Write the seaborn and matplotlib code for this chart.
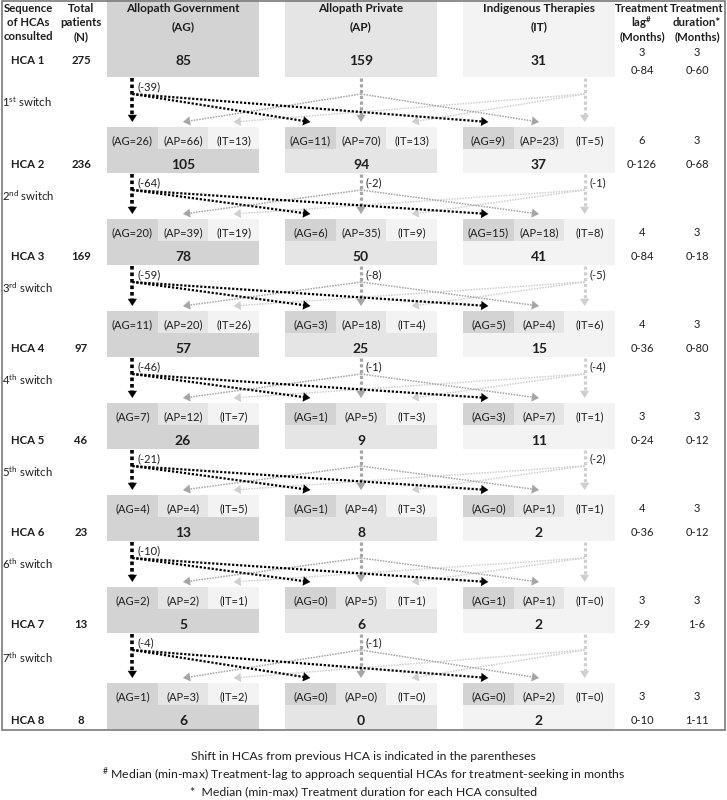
"""
Flow of patients across sequential healthcare approaches (HCA 1 - HCA 8).
Writes out.png (727x800).
"""
import matplotlib
matplotlib.use("Agg")
import matplotlib.pyplot as plt
import seaborn as sns

# ── data ────────────────────────────────────────────────────────────
HCA_LABELS = ["HCA 1", "HCA 2", "HCA 3", "HCA 4", "HCA 5", "HCA 6", "HCA 7", "HCA 8"]
TOTAL_N = [275, 236, 169, 97, 46, 23, 13, 8]

GROUP_CODES = ["AG", "AP", "IT"]
GROUP_TITLES = ["Allopath Government", "Allopath Private", "Indigenous Therapies"]

AG_N = [85, 105, 78, 57, 26, 13, 5, 6]
AP_N = [159, 94, 50, 25, 9, 8, 6, 0]
IT_N = [31, 37, 41, 15, 11, 2, 2, 2]

# patients arriving in each group at HCA 2..8, split by previous HCA (AG, AP, IT)
AG_FROM = [(26, 66, 13), (20, 39, 19), (11, 20, 26), (7, 12, 7), (4, 4, 5), (2, 2, 1), (1, 3, 2)]
AP_FROM = [(11, 70, 13), (6, 35, 9), (3, 18, 4), (1, 5, 3), (1, 4, 3), (0, 5, 1), (0, 0, 0)]
IT_FROM = [(9, 23, 5), (15, 18, 8), (5, 4, 6), (3, 7, 1), (0, 1, 1), (1, 1, 0), (0, 2, 0)]

# drop-out at each switch (None = no label)
AG_SHIFT = [-39, -64, -59, -46, -21, -10, -4]
AP_SHIFT = [None, -2, -8, -1, None, None, -1]
IT_SHIFT = [None, -1, -5, -4, -2, None, None]

LAG_MEDIAN = ["3", "6", "4", "4", "3", "4", "3", "3"]
LAG_RANGE = ["0-84", "0-126", "0-84", "0-36", "0-24", "0-36", "2-9", "0-10"]
DUR_MEDIAN = ["3", "3", "3", "3", "3", "3", "3", "3"]
DUR_RANGE = ["0-60", "0-68", "0-18", "0-80", "0-12", "0-12", "1-6", "1-11"]

SWITCH_LABELS = ["1$^{st}$ switch", "2$^{nd}$ switch", "3$^{rd}$ switch", "4$^{th}$ switch",
                 "5$^{th}$ switch", "6$^{th}$ switch", "7$^{th}$ switch"]

FOOTNOTES = [
    "Shift in HCAs from previous HCA is indicated in the parentheses",
    "$^{\\#}$ Median (min-max) Treatment-lag to approach sequential HCAs for treatment-seeking in months",
    "*  Median (min-max) Treatment duration for each HCA consulted",
]

# ── layout (pixels) ─────────────────────────────────────────────────
FIG_W, FIG_H = 727, 800
GX = [107, 285, 463]
GW = 152
ROW_Y = [61, 165, 257, 349, 441, 533, 625, 721]
HEADER_BOTTOM = 77
COL1_X, COL2_X = 28, 81
LAG_X, DUR_X = 642, 697
ANCHOR = [1 / 6, 1 / 2, 0.8]

FILL = ["#d3d3d3", "#e5e5e5", "#f3f3f3"]
LINE = ["#000000", "#a5a5a5", "#cfcfcf"]
TXT = "#1e1e1e"

sns.set_theme(style="white")
plt.rcParams["font.family"] = ["Lato", "DejaVu Sans"]
plt.rcParams["mathtext.default"] = "regular"

fig = plt.figure(figsize=(FIG_W / 100, FIG_H / 100), dpi=100)
ax = fig.add_axes([0, 0, 1, 1])
ax.set_xlim(0, FIG_W)
ax.set_ylim(FIG_H, 0)
ax.axis("off")

counts = [AG_N, AP_N, IT_N]
arrivals = [AG_FROM, AP_FROM, IT_FROM]
shifts = [AG_SHIFT, AP_SHIFT, IT_SHIFT]


def box_bottom(k):
    return HEADER_BOTTOM if k == 0 else ROW_Y[k] + 8


def sub_top(k):
    return ROW_Y[k] - 38


def sub_split(k):
    return ROW_Y[k] - 16


# ── cells as bars ───────────────────────────────────────────────────
lefts, tops, heights, widths, colors = [], [], [], [], []
for g in range(3):
    lefts.append(GX[g]); tops.append(0); heights.append(HEADER_BOTTOM)
    widths.append(GW); colors.append(FILL[g])
for k in range(1, len(ROW_Y)):
    for g in range(3):
        lefts.append(GX[g]); tops.append(sub_split(k))
        heights.append(box_bottom(k) - sub_split(k)); widths.append(GW); colors.append(FILL[g])
        for s in range(3):
            lefts.append(GX[g] + GW * s / 3); tops.append(sub_top(k))
            heights.append(sub_split(k) - sub_top(k)); widths.append(GW / 3); colors.append(FILL[s])
ax.bar(lefts, heights, width=widths, bottom=tops, align="edge", color=colors, linewidth=0)

# ── text ────────────────────────────────────────────────────────────
HEAD_Y = [9, 23, 37]
bold = dict(ha="center", va="center", color=TXT, fontsize=8.5, fontweight="bold")
side = dict(bold, fontsize=8.2)
value = dict(bold, fontsize=10)
reg = dict(ha="center", va="center", color=TXT, fontsize=8)

for y, t in zip(HEAD_Y, ["Sequence", "of HCAs", "consulted"]):
    ax.text(COL1_X, y, t, **side)
for y, t in zip(HEAD_Y, ["Total", "patients", "(N)"]):
    ax.text(COL2_X, y, t, **side)
for y, t in zip(HEAD_Y, ["Treatment", "lag$^{\\#}$", "(Months)"]):
    ax.text(LAG_X, y, t, **side)
for y, t in zip(HEAD_Y, ["Treatment", "duration*", "(Months)"]):
    ax.text(DUR_X, y, t, **side)
for g in range(3):
    cx = GX[g] + GW / 2
    ax.text(cx, 9, GROUP_TITLES[g], **bold)
    ax.text(cx, 27, f"({GROUP_CODES[g]})", **bold)

for k, y in enumerate(ROW_Y):
    ax.text(COL1_X, y, HCA_LABELS[k], **side)
    ax.text(COL2_X, y, str(TOTAL_N[k]), **side)
    for g in range(3):
        ax.text(GX[g] + GW / 2, y, str(counts[g][k]), **value)
        if k > 0:
            for s in range(3):
                ax.text(GX[g] + GW * (s + 0.5) / 3, y - 24,
                        f"({GROUP_CODES[s]}={arrivals[g][k - 1][s]})", **reg)
    if k == 0:
        ax.text(LAG_X, 52, LAG_MEDIAN[k], **reg)
        ax.text(LAG_X, 70, LAG_RANGE[k], **reg)
        ax.text(DUR_X, 52, DUR_MEDIAN[k], **reg)
        ax.text(DUR_X, 70, DUR_RANGE[k], **reg)
    else:
        ax.text(LAG_X, y - 24, LAG_MEDIAN[k], **reg)
        ax.text(LAG_X, y, LAG_RANGE[k], **reg)
        ax.text(DUR_X, y - 24, DUR_MEDIAN[k], **reg)
        ax.text(DUR_X, y, DUR_RANGE[k], **reg)


# ── arrows ──────────────────────────────────────────────────────────
def dotted_arrow(x0, y0, x1, y1, color, lw, z):
    dx, dy = x1 - x0, y1 - y0
    n = (dx * dx + dy * dy) ** 0.5
    ux, uy = dx / n, dy / n
    ax.plot([x0, x1 - 4 * ux], [y0, y1 - 4 * uy], color=color, lw=lw,
            linestyle=(0, (1, 0.8)), dash_capstyle="butt", zorder=z)
    ax.annotate("", xy=(x1, y1), xytext=(x1 - 3 * ux, y1 - 3 * uy),
                arrowprops=dict(arrowstyle="-|>,head_length=0.5,head_width=0.32",
                                color=color, lw=0.1, shrinkA=0, shrinkB=0,
                                mutation_scale=10),
                zorder=z)


for k in range(len(ROW_Y) - 1):
    yb = box_bottom(k)
    yt = sub_top(k + 1) - 5
    yr = yb + 17
    ax.text(2, (yb + sub_top(k + 1)) / 2, SWITCH_LABELS[k], ha="left", va="center",
            color=TXT, fontsize=8.2)
    for g in [2, 1, 0]:
        z = 5 - g
        xs = GX[g] + GW * ANCHOR[g]
        lw_v, lw_d = (2.6, 1.6) if g == 0 else (2.3, 1.1)
        dotted_arrow(xs, yb + 1, xs, yt, LINE[g], lw_v, z)
        for t in range(3):
            if t == g:
                continue
            dotted_arrow(xs, yr, GX[t] + GW * (g + 0.5) / 3, yt, LINE[g], lw_d, z)
        if shifts[g][k] is not None:
            ax.text(xs + 5, yb + 10, f"({shifts[g][k]})", ha="left", va="center",
                    color=TXT, fontsize=8)

# outer frame
ax.add_patch(plt.Rectangle((2, 0.5), 723, 729, fill=False, edgecolor="#7a7a7a", lw=1.2, zorder=10))

for y, t in zip([757, 775, 792], FOOTNOTES):
    ax.text(FIG_W / 2, y, t, ha="center", va="center", color=TXT, fontsize=8.8)

fig.savefig("out.png", dpi=100)
